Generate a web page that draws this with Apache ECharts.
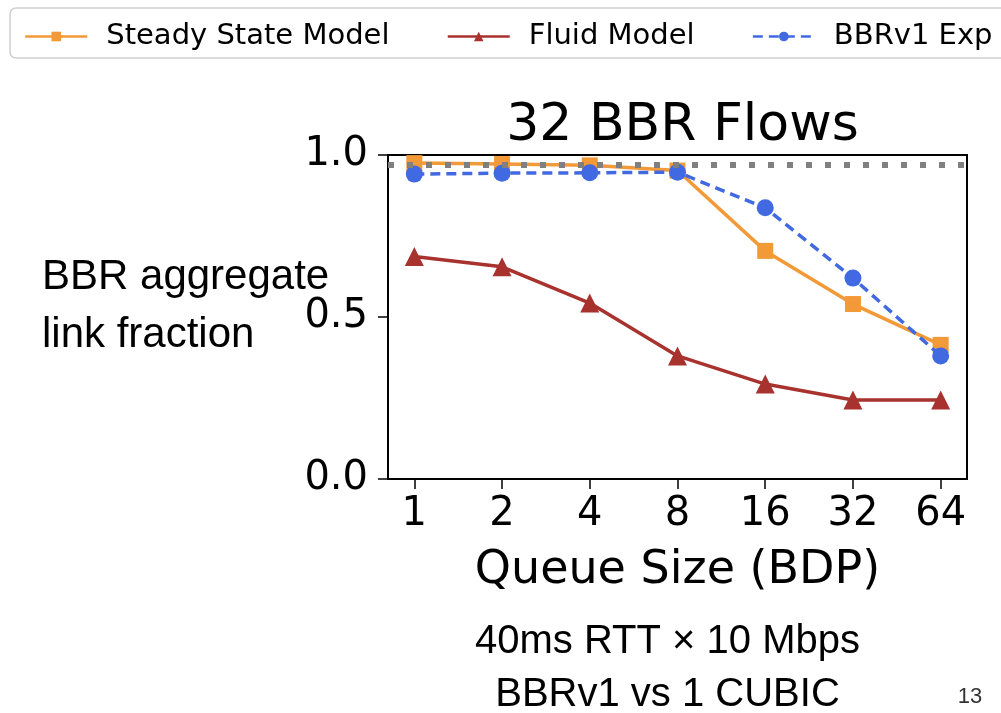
<!DOCTYPE html>
<html>
<head>
<meta charset="utf-8">
<title>32 BBR Flows</title>
<script src="https://cdn.jsdelivr.net/npm/echarts@6/dist/echarts.min.js"></script>
<style>
  html, body { margin: 0; padding: 0; background: #fff; }
  #chart { width: 1001px; height: 713px; }
</style>
</head>
<body>
<div id="chart"></div>
<script>
// --- data ------------------------------------------------------------------
const queueSizes = ["1", "2", "4", "8", "16", "32", "64"];
const steadyState = [0.975, 0.972, 0.968, 0.952, 0.704, 0.540, 0.414];
const fluidModel = [0.687, 0.655, 0.543, 0.380, 0.293, 0.244, 0.244];
const bbrExp = [0.941, 0.944, 0.945, 0.947, 0.837, 0.620, 0.380];
const fairShareLine = 0.972;
const yTicks = [0, 0.5, 1];

// --- styles ----------------------------------------------------------------
const ORANGE = "#F29A38";
const RED = "#A8322D";
const BLUE = "#4169E1";
const GREY = "#808080";
const MPL = "DejaVu Sans";
const SLIDE = "Liberation Sans";

const idx = queueSizes.map((_, i) => i);
const pts = (vals) => vals.map((v, i) => [i, v]);

const chart = echarts.init(document.getElementById("chart"), null, { renderer: "canvas" });

chart.setOption({
  animation: false,
  backgroundColor: "#fff",
  title: {
    text: "32 BBR Flows",
    left: 677.5,
    top: 95,
    textAlign: "center",
    textStyle: { fontFamily: MPL, fontSize: 52, fontWeight: "normal", color: "#000" },
  },
  legend: {
    left: 19,
    top: 17,
    itemWidth: 62,
    itemHeight: 12,
    itemGap: 57,
    lineStyle: { width: 2.5 },
    textStyle: { fontFamily: MPL, fontSize: 29, color: "#000", padding: [0, 0, 0, 14] },
    data: ["Steady State Model", "Fluid Model", "BBRv1 Exp"],
  },
  grid: {
    left: 388, right: 34, top: 155, bottom: 234,
    show: true, borderColor: "#000", borderWidth: 2, backgroundColor: "transparent",
  },
  xAxis: {
    type: "value",
    min: -0.3,
    max: 6.3,
    name: "Queue Size (BDP)",
    nameLocation: "middle",
    nameGap: 69,
    nameTextStyle: { fontFamily: MPL, fontSize: 46, color: "#000", verticalAlign: "top" },
    splitLine: { show: false },
    axisLine: { show: true, onZero: false, lineStyle: { color: "#000", width: 2 } },
    axisTick: { show: true, inside: false, length: 10, customValues: idx, lineStyle: { color: "#000", width: 1.5 } },
    axisLabel: {
      customValues: idx,
      margin: 16,
      fontFamily: MPL, fontSize: 40, color: "#000",
      formatter: (v) => queueSizes[Math.round(v)] ?? "",
    },
  },
  yAxis: {
    type: "value",
    min: 0,
    max: 1,
    interval: 0.5,
    splitLine: { show: false },
    axisLine: { show: true, onZero: false, lineStyle: { color: "#000", width: 2 } },
    axisTick: { show: true, inside: false, length: 10, customValues: yTicks, lineStyle: { color: "#000", width: 1.5 } },
    axisLabel: {
      customValues: yTicks,
      margin: 20,
      padding: [6, 0, 0, 0],
      fontFamily: MPL, fontSize: 40, color: "#000",
      formatter: (v) => v.toFixed(1),
    },
  },
  graphic: [
    {
      type: "rect",
      shape: { x: 10, y: 8, width: 1010, height: 50, r: 6 },
      style: { fill: "none", stroke: "#cfcfcf", lineWidth: 1.5 },
      z: -1,
    },
    {
      type: "text", left: 42, top: 248,
      style: { text: "BBR aggregate\nlink fraction", fontFamily: SLIDE, fontSize: 42, lineHeight: 58, fill: "#000" },
    },
    {
      type: "text", x: 667.5, y: 642,
      style: { text: "40ms RTT \u00d7 10 Mbps", fontFamily: SLIDE, fontSize: 40, fill: "#000", align: "center", verticalAlign: "middle" },
    },
    {
      type: "text", x: 667.5, y: 695,
      style: { text: "BBRv1 vs 1 CUBIC", fontFamily: SLIDE, fontSize: 40, fill: "#000", align: "center", verticalAlign: "middle" },
    },
    {
      type: "text", x: 970, y: 697,
      style: { text: "13", fontFamily: SLIDE, fontSize: 22, fill: "#333", align: "center", verticalAlign: "middle" },
    },
  ],
  series: [
    {
      name: "Steady State Model",
      type: "line",
      data: pts(steadyState),
      symbol: "rect",
      symbolSize: 16,
      itemStyle: { color: ORANGE },
      lineStyle: { color: ORANGE, width: 3.5 },
      z: 2,
    },
    {
      name: "Fluid Model",
      type: "line",
      data: pts(fluidModel),
      symbol: "triangle",
      symbolSize: 19,
      itemStyle: { color: RED },
      lineStyle: { color: RED, width: 3.5 },
      z: 2,
    },
    {
      name: "fair",
      type: "line",
      data: [],
      z: 3,
      markLine: {
        silent: true,
        symbol: "none",
        label: { show: false },
        lineStyle: { color: GREY, width: 6, type: [6, 13], cap: "butt" },
        data: [{ yAxis: fairShareLine }],
      },
    },
    {
      name: "BBRv1 Exp",
      type: "line",
      data: pts(bbrExp),
      symbol: "circle",
      symbolSize: 17,
      itemStyle: { color: BLUE },
      lineStyle: { color: BLUE, width: 3.5, type: [10, 6] },
      z: 4,
    },
  ],
});
</script>
</body>
</html>
